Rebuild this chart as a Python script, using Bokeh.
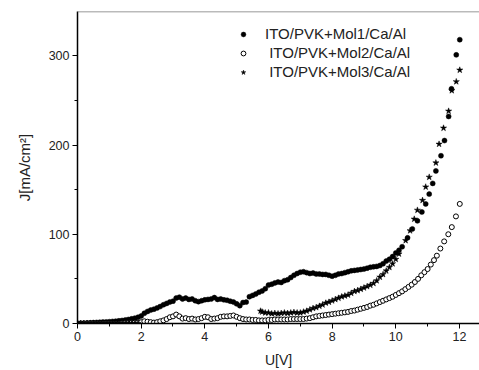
from bokeh.plotting import figure
from bokeh.models import Range1d, Legend, LegendItem, Span, FixedTicker
from bokeh.embed import file_html
from bokeh.resources import INLINE

# ---------------- data ----------------
mol1_u = [0.0, 0.1, 0.2, 0.3, 0.4, 0.5, 0.6, 0.7, 0.8, 0.9, 1.0,
          1.1, 1.2, 1.3, 1.4, 1.5, 1.6, 1.7, 1.8, 1.9, 2.0,
          2.1, 2.2, 2.3, 2.4, 2.5, 2.6, 2.7, 2.8, 2.9, 3.0,
          3.1, 3.2, 3.3, 3.4, 3.5, 3.6, 3.7, 3.8, 3.9, 4.0,
          4.1, 4.2, 4.3, 4.4, 4.5, 4.6, 4.7, 4.8, 4.9, 5.0,
          5.1, 5.2, 5.3, 5.4, 5.5, 5.6, 5.7, 5.8, 5.9, 6.0,
          6.1, 6.2, 6.3, 6.4, 6.5, 6.6, 6.7, 6.8, 6.9, 7.0,
          7.1, 7.2, 7.3, 7.4, 7.5, 7.6, 7.7, 7.8, 7.9, 8.0,
          8.1, 8.2, 8.3, 8.4, 8.5, 8.6, 8.7, 8.8, 8.9, 9.0,
          9.1, 9.2, 9.3, 9.4, 9.5, 9.6, 9.7, 9.8, 9.9, 10.0,
          10.1, 10.2, 10.37, 10.52, 10.68, 10.82, 10.94, 11.05, 11.16, 11.26,
          11.42, 11.53, 11.66, 11.75, 11.9, 12.01]
mol1_j = [0, 0.2, 0.4, 0.6, 0.8, 1.0, 1.2, 1.4, 1.6, 1.8, 2.0,
          2.3, 2.6, 3.0, 3.4, 3.9, 4.5, 5.2, 6.0, 7.0, 8.5,
          11.5, 13.5, 15, 16, 17.5, 19, 21, 22.5, 24, 25,
          28.5, 29.5, 27.5, 28.5, 27, 27.5, 25.5, 24.5, 25.5, 26.5,
          27, 27.5, 29, 27, 27.5, 26.5, 26, 25, 24, 22,
          20, 23.5, 24, 30, 31.5, 33, 35, 36.5, 39, 43,
          44, 45.5, 46.5, 46, 48, 49, 51.5, 54, 56, 57.5,
          58, 57, 56, 56.5, 55.5, 55.5, 55, 55, 54, 53,
          54, 55.5, 56, 57, 58, 59, 59.5, 60, 60.5, 61,
          62, 63, 63.5, 64, 65, 67, 70, 72, 75, 79,
          82, 86, 96, 106, 115, 125, 134, 145, 157, 171,
          188, 205, 232, 263, 301, 318]

mol2_u = [0.0, 0.1, 0.2, 0.3, 0.4, 0.5, 0.6, 0.7, 0.8, 0.9, 1.0,
          1.1, 1.2, 1.3, 1.4, 1.5, 1.6, 1.7, 1.8, 1.9, 2.0,
          2.1, 2.2, 2.3, 2.4, 2.5, 2.6, 2.7, 2.8, 2.9, 3.0,
          3.1, 3.2, 3.3, 3.4, 3.5, 3.6, 3.7, 3.8, 3.9, 4.0,
          4.1, 4.2, 4.3, 4.4, 4.5, 4.6, 4.7, 4.8, 4.9, 5.0,
          5.1, 5.2, 5.3, 5.4, 5.5, 5.6, 5.7, 5.8, 5.9, 6.0,
          6.1, 6.2, 6.3, 6.4, 6.5, 6.6, 6.7, 6.8, 6.9, 7.0,
          7.1, 7.2, 7.3, 7.4, 7.5, 7.6, 7.7, 7.8, 7.9, 8.0,
          8.1, 8.2, 8.3, 8.4, 8.5, 8.6, 8.7, 8.8, 8.9, 9.0,
          9.1, 9.2, 9.3, 9.4, 9.5, 9.6, 9.7, 9.8, 9.9, 10.0,
          10.1, 10.2, 10.3, 10.4, 10.5, 10.6, 10.7, 10.8, 10.9, 11.0,
          11.1, 11.2, 11.29, 11.4, 11.52, 11.65, 11.76, 11.89, 12.01]
mol2_j = [0, 0, 0, 0, 0, 0, 0, 0, 0, 0, 0,
          0, 0, 0, 0.3, 0.5, 0.5, 0.8, 1, 1, 1.5,
          2.5, 2, 1.5, 1, 1.5, 2.5, 3.5, 5, 7, 8,
          10, 8, 5.5, 6, 5, 5.5, 4.5, 5, 6, 7.5,
          7, 5, 5.5, 6, 7.5, 8, 8, 8.5, 9, 7.5,
          6, 5, 4.5, 4.5, 4, 4, 3.5, 3.5, 3.5, 4,
          4, 4.5, 4.5, 4.5, 4.5, 4.5, 5, 5, 5, 5,
          5, 5.5, 6, 7, 8, 8.5, 9, 9.5, 10, 10.5,
          11, 11.5, 12, 12.5, 13, 14, 14.5, 15.5, 16.5, 17.5,
          18.5, 20, 21, 22.5, 24, 25.5, 27, 28.5, 30, 32,
          34, 36, 38.5, 41, 43.5, 46.5, 50, 54, 57.5, 61,
          66, 71, 76, 84, 92, 100, 108, 120, 134]

mol3_u = [0.0, 0.1, 0.2, 0.3, 0.4, 0.5, 0.6, 0.7, 0.8, 0.9, 1.0,
          1.1, 1.2, 1.3, 1.4, 1.5, 1.6, 1.7, 1.8, 1.9,
          5.75, 5.8, 5.9, 6.0, 6.1, 6.2, 6.3, 6.4, 6.5, 6.6, 6.7, 6.8, 6.9, 7.0,
          7.1, 7.2, 7.3, 7.4, 7.5, 7.6, 7.7, 7.8, 7.9, 8.0,
          8.1, 8.2, 8.3, 8.4, 8.5, 8.6, 8.7, 8.8, 8.9, 9.0,
          9.1, 9.2, 9.3, 9.4, 9.5, 9.6, 9.7, 9.8, 9.9, 10.0,
          10.1, 10.31, 10.45, 10.58, 10.68, 10.84, 10.94, 11.05, 11.26,
          11.36, 11.5, 11.66, 11.76, 11.9, 12.01]
mol3_j = [0, 0, 0, 0, 0, 0, 0, 0, 0, 0, 0,
          0, 0, 0, 0, 0, 0, 0, 0, 0,
          14, 13, 12, 12, 11, 11.5, 11, 11.5, 12, 11.5, 12, 12.5, 12, 12,
          13, 14, 15.5, 17, 18, 19.5, 21, 23, 24, 25.5,
          27, 28.5, 30, 31, 32, 34, 36, 37, 38.5, 40,
          41.5, 43, 45, 48, 52, 55, 59, 63, 67, 72,
          78, 93, 104, 117, 127, 138, 153, 164, 180,
          201, 219, 238, 261, 271, 284]

labels = ["ITO/PVK+Mol1/Ca/Al", " ITO/PVK+Mol2/Ca/Al", " ITO/PVK+Mol3/Ca/Al"]
x_ticks = [0, 2, 4, 6, 8, 10, 12]
y_ticks = [0, 100, 200, 300]

FONT = "Liberation Sans"

p = figure(width=479, height=370, output_backend="svg", toolbar_location=None,
           x_range=Range1d(0, 12.63), y_range=Range1d(0, 349.6),
           min_border_left=77, min_border_right=0, min_border_top=11, min_border_bottom=47)
p.outline_line_color = None
p.xgrid.visible = False
p.ygrid.visible = False
p.background_fill_color = "white"
p.border_fill_color = "white"

r1 = p.scatter(mol1_u, mol1_j, marker="circle", size=5, fill_color="black", line_color="black", line_width=0.5)
r2 = p.scatter(mol2_u, mol2_j, marker="circle", size=5, fill_color="white", line_color="black", line_width=1)
r3 = p.scatter(mol3_u, mol3_j, marker="star", size=6.5, fill_color="black", line_color="black", line_width=0.5)

top = Span(location=349.6, dimension="width", line_color="#777777", line_width=1.5)
p.add_layout(top)

for ax in (p.xaxis[0], p.yaxis[0]):
    ax.axis_line_color = "black"
    ax.axis_line_width = 1.5
    ax.major_tick_line_color = "black"
    ax.major_tick_line_width = 1
    ax.minor_tick_line_color = "black"
    ax.minor_tick_line_width = 1
    ax.major_tick_out = 5
    ax.major_tick_in = 0
    ax.minor_tick_out = 3
    ax.minor_tick_in = 0
    ax.major_label_text_font = FONT
    ax.major_label_text_font_size = "12.5px"
    ax.major_label_text_color = "#222222"
    ax.axis_label_text_font = FONT
    ax.axis_label_text_font_style = "normal"
    ax.axis_label_text_color = "#222222"
    ax.major_label_standoff = 3

p.xaxis.axis_label_text_font_size = "14px"
p.yaxis.axis_label_text_font_size = "15px"
p.xaxis.ticker = FixedTicker(ticks=x_ticks, minor_ticks=[1, 3, 5, 7, 9, 11])
p.yaxis.ticker = FixedTicker(ticks=y_ticks, minor_ticks=[50, 150, 250])
p.xaxis.axis_label = "U[V]"
p.yaxis.axis_label = "J[mA/cm\u00b2]"
p.xaxis.axis_label_standoff = 8
p.yaxis.axis_label_standoff = 13

legend = Legend(items=[LegendItem(label=labels[0], renderers=[r1]),
                       LegendItem(label=labels[1], renderers=[r2]),
                       LegendItem(label=labels[2], renderers=[r3])],
                location=(160, 242), border_line_color=None, background_fill_alpha=0,
                padding=0, margin=0, spacing=0, glyph_width=12, glyph_height=12,
                label_height=19, label_standoff=16,
                label_text_font=FONT, label_text_font_size="15px", label_text_color="#222222")
p.add_layout(legend)

open("out.html", "w").write(file_html(p, INLINE))
